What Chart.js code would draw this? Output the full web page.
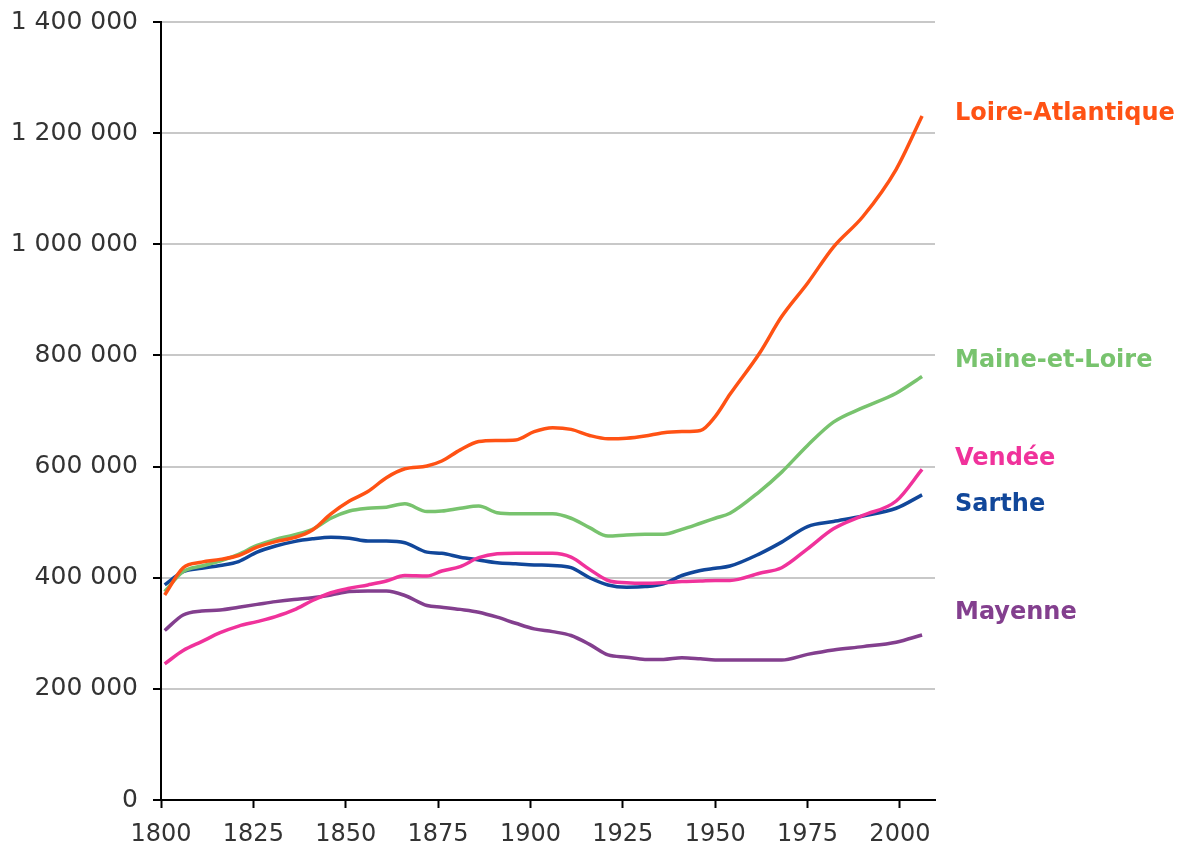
<!DOCTYPE html>
<html>
<head>
<meta charset="utf-8">
<script src="https://cdn.jsdelivr.net/npm/chart.js@4/dist/chart.umd.min.js"></script>
<style>
  body { margin: 0; background: #fff; }
  #wrap { width: 1186px; height: 853px; }
</style>
</head>
<body>
<div id="wrap"><canvas id="popChart" width="1186" height="853"></canvas></div>
<script>
// census years (x axis)
const years = [1801, 1806, 1811, 1816, 1821, 1826, 1831, 1836, 1841, 1846, 1851, 1856, 1861, 1866, 1872, 1876, 1881, 1886, 1891, 1896, 1901, 1906, 1911, 1916, 1921, 1926, 1931, 1936, 1941, 1946, 1950, 1954, 1962, 1968, 1975, 1982, 1990, 1999, 2006];

// population in thousands
const loireAtlantique = [369, 418, 428, 433, 440, 455, 465, 472, 486, 515, 538, 555, 580, 596, 601, 610, 630, 645, 647, 648, 663, 670, 667, 656, 650, 651, 655, 661, 663, 665, 690, 730, 804, 870, 930, 995, 1050, 1135, 1231];
const maineEtLoire = [375, 411, 421, 430, 442, 458, 469, 477, 487, 507, 520, 525, 527, 533, 519, 520, 525, 529, 517, 515, 515, 515, 507, 490, 475, 477, 478, 478, 487, 498, 507, 516, 555, 590, 638, 680, 706, 732, 762];
const vendee = [245, 269, 285, 301, 313, 321, 330, 342, 359, 373, 381, 387, 394, 404, 403, 412, 420, 436, 443, 444, 444, 444, 437, 415, 395, 391, 390, 391, 393, 394, 395, 395, 408, 418, 452, 488, 512, 538, 595];
const sarthe = [387, 411, 417, 422, 429, 446, 457, 465, 470, 473, 471, 466, 466, 463, 446, 444, 437, 432, 427, 425, 423, 422, 418, 400, 387, 383, 384, 389, 404, 413, 417, 421, 443, 464, 492, 501, 511, 525, 549];
const mayenne = [305, 333, 340, 342, 347, 352, 357, 361, 364, 369, 375, 376, 376, 368, 350, 347, 343, 338, 329, 318, 308, 303, 296, 280, 261, 257, 253, 253, 256, 254, 252, 252, 252, 252, 262, 270, 276, 284, 297];

const yTicks = [0, 200000, 400000, 600000, 800000, 1000000, 1200000, 1400000];
const xTicks = [1800, 1825, 1850, 1875, 1900, 1925, 1950, 1975, 2000];

function pts(vals) {
  return years.map((yr, i) => ({ x: yr, y: vals[i] * 1000 }));
}

function fmt(v) {
  return String(v).replace(/\B(?=(\d{3})+(?!\d))/g, ' ');
}

// names written at the right of the plot
const endLabels = {
  id: 'endLabels',
  afterDatasetsDraw(chart, args, opts) {
    const c = chart.ctx;
    const ys = chart.scales.y;
    c.save();
    c.font = 'bold 24px "DejaVu Sans"';
    c.textBaseline = 'middle';
    c.textAlign = 'left';
    chart.data.datasets.forEach((ds, i) => {
      c.fillStyle = ds.borderColor;
      c.fillText(ds.label, opts.x, ys.getPixelForValue(opts.at[i]));
    });
    c.restore();
  }
};

const ctx = document.getElementById('popChart').getContext('2d');
const chart = new Chart(ctx, {
  type: 'line',
  data: {
    datasets: [
      { label: 'Loire-Atlantique', data: pts(loireAtlantique), borderColor: '#ff5214' },
      { label: 'Maine-et-Loire', data: pts(maineEtLoire), borderColor: '#78c36e' },
      { label: 'Vendée', data: pts(vendee), borderColor: '#f0329b' },
      { label: 'Sarthe', data: pts(sarthe), borderColor: '#11479a' },
      { label: 'Mayenne', data: pts(mayenne), borderColor: '#833f8e' }
    ]
  },
  options: {
    responsive: false,
    animation: false,
    layout: { padding: { top: 22, right: 251, left: 0, bottom: 0 } },
    elements: {
      line: { borderWidth: 3.5, cubicInterpolationMode: 'monotone', fill: false },
      point: { radius: 0 }
    },
    plugins: {
      legend: { display: false },
      tooltip: { enabled: false },
      endLabels: { x: 955, at: [1235000, 790000, 614000, 531000, 337000] }
    },
    scales: {
      x: {
        type: 'linear',
        min: 1800,
        max: 2009.5,
        afterBuildTicks: s => { s.ticks = xTicks.map(v => ({ value: v })); },
        afterFit: s => { s.height = 53; s.paddingRight = 0; },
        grid: { drawOnChartArea: false, drawTicks: true, tickLength: 8, tickColor: '#000', tickWidth: 2 },
        border: { color: '#000', width: 2 },
        ticks: {
          autoSkip: false, maxRotation: 0, padding: 12, color: '#333',
          font: { family: 'DejaVu Sans', size: 24 },
          callback: v => String(v)
        }
      },
      y: {
        min: 0,
        max: 1400000,
        afterBuildTicks: s => { s.ticks = yTicks.map(v => ({ value: v })); },
        afterFit: s => { s.width = 161; s.paddingTop = 0; s.paddingBottom = 0; },
        grid: { color: '#c8c8c8', lineWidth: 2, drawTicks: true, tickLength: 8, tickColor: '#000', tickWidth: 2 },
        border: { color: '#000', width: 2 },
        ticks: {
          padding: 15, color: '#333',
          font: { family: 'DejaVu Sans', size: 25 },
          callback: v => fmt(v)
        }
      }
    }
  },
  plugins: [endLabels]
});
</script>
</body>
</html>
